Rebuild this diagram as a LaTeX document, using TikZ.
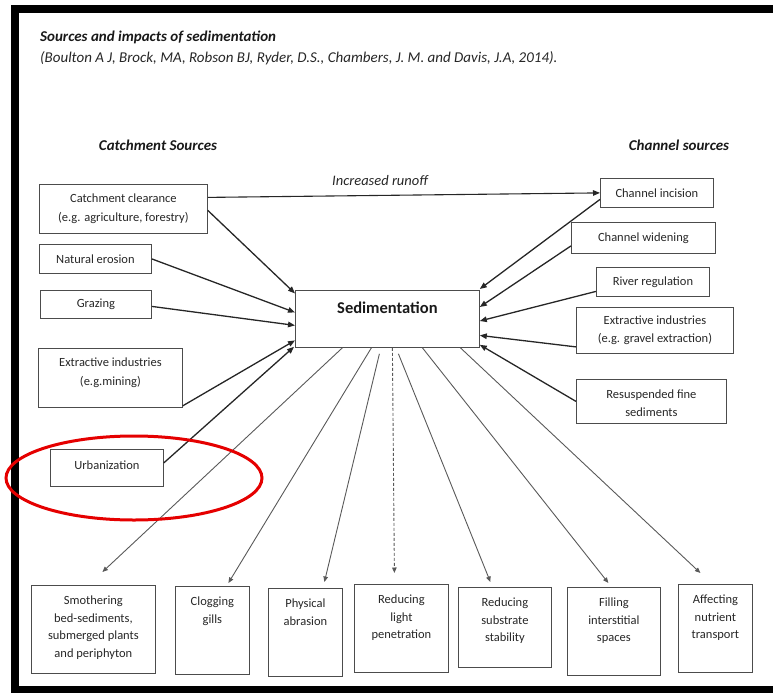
\documentclass[tikz,border=0pt]{standalone}
\usepackage{fontspec}
\setmainfont{Carlito}
\usetikzlibrary{arrows.meta,calc}
\begin{document}
\begin{tikzpicture}[x=1pt,y=-1pt,
  box/.style={draw=black!70, line width=0.8pt, inner sep=0pt, anchor=north west},
  btxt/.style={inner sep=0pt, align=center, text=black!85, font=\fontsize{12.5}{18.5}\selectfont},
  lowtxt/.style={inner sep=0pt, align=center, anchor=north, text=black!85, font=\fontsize{12.5}{17.5}\selectfont},
  head/.style={inner sep=0pt, text=black!90, font=\bfseries\itshape\fontsize{15}{18}\selectfont},
  inarr/.style={-{Triangle[length=7pt,width=5.5pt]}, line width=1.3pt, draw=black!85},
  outarr/.style={-{Triangle[length=5.5pt,width=4.5pt]}, line width=0.9pt, draw=black!65},
  frame/.style={fill=black, draw=none}
]
\useasboundingbox (0,0) rectangle (773,693);
% black frame (open at right)
\fill[frame] (11,5) rectangle (773,13);
\fill[frame] (11,5) rectangle (19,693);
\fill[frame] (11,686) rectangle (773,693);

% headings
\node[head, anchor=west] (title) at (40,37) {Sources and impacts of sedimentation};
\node[inner sep=0pt, anchor=west, text=black!85, font=\itshape\fontsize{15}{18}\selectfont] (cite) at (40,58)
  {(Boulton A J, Brock, MA, Robson BJ, Ryder, D.S., Chambers, J. M. and Davis, J.A, 2014).};
\node[head] (catch) at (158,145) {Catchment Sources};
\node[head] (chan) at (679,145) {Channel sources};

% left boxes
\node[box, minimum width=168, minimum height=49] (cc) at (39,184) {};
\node[btxt] (cct) at (cc.center) {Catchment clearance\\(e.g. agriculture, forestry)};
\node[box, minimum width=112, minimum height=29] (ne) at (39,244) {};
\node[btxt] (net) at (ne.center) {Natural erosion};
\node[box, minimum width=111, minimum height=28] (gr) at (40,290) {};
\node[btxt] (grt) at (gr.center) {Grazing};
\node[box, minimum width=144, minimum height=59] (em) at (38,348) {};
\node[btxt] (emt) at ([yshift=5pt]em.center) {Extractive industries\\(e.g.mining)};
\node[box, minimum width=113, minimum height=37] (ur) at (50,449) {};
\node[btxt] (urt) at ([yshift=3pt]ur.center) {Urbanization};

% central box
\node[box, minimum width=184, minimum height=57] (sed) at (295,290) {};
\node[inner sep=0pt, text=black!90, font=\bfseries\fontsize{16.5}{20}\selectfont] (sedt) at ([yshift=11pt]sed.center) {Sedimentation};

% right boxes
\node[box, minimum width=113, minimum height=29] (ci) at (600,178) {};
\node[btxt] (cit) at (ci.center) {Channel incision};
\node[box, minimum width=144, minimum height=31] (cw) at (571,222) {};
\node[btxt] (cwt) at (cw.center) {Channel widening};
\node[box, minimum width=113, minimum height=29] (rr) at (596,267) {};
\node[btxt] (rrt) at (rr.center) {River regulation};
\node[box, minimum width=157, minimum height=46] (eg) at (576,307) {};
\node[btxt] (egt) at (eg.center) {Extractive industries\\(e.g. gravel extraction)};
\node[box, minimum width=150, minimum height=44] (rs) at (576,379) {};
\node[btxt] (rst) at ([yshift=-2pt]rs.center) {Resuspended fine\\sediments};

% bottom boxes
\node[box, minimum width=124, minimum height=88] (smo) at (31,585) {};
\node[lowtxt] (smot) at ([yshift=-11pt]smo.north) {Smothering\\bed-sediments,\\submerged plants\\and periphyton};
\node[box, minimum width=74, minimum height=88] (clo) at (175,586) {};
\node[lowtxt] (clot) at ([yshift=-11pt]clo.north) {Clogging\\gills};
\node[box, minimum width=74, minimum height=88] (phy) at (268,588) {};
\node[lowtxt] (phyt) at ([yshift=-11pt]phy.north) {Physical\\abrasion};
\node[box, minimum width=94, minimum height=88] (rli) at (354,584) {};
\node[lowtxt] (rlit) at ([yshift=-11pt]rli.north) {Reducing\\light\\penetration};
\node[box, minimum width=93, minimum height=80] (rss) at (458,587) {};
\node[lowtxt] (rsst) at ([yshift=-11pt]rss.north) {Reducing\\substrate\\stability};
\node[box, minimum width=93, minimum height=88] (fil) at (567,587) {};
\node[lowtxt] (filt) at ([yshift=-11pt]fil.north) {Filling\\interstitial\\spaces};
\node[box, minimum width=74, minimum height=88] (aff) at (678,584) {};
\node[lowtxt] (afft) at ([yshift=-11pt]aff.north) {Affecting\\nutrient\\transport};

% increased runoff
\draw[inarr, line width=1.1pt] ([yshift=11.5pt]cc.east) -- (ci.west);
\node[inner sep=0pt, text=black!85, font=\itshape\fontsize{14.5}{17}\selectfont] (runoff) at (380,181) {Increased runoff};

% arrows into sedimentation (left)
\draw[inarr] ([yshift=-1.5pt]cc.east) -- ([yshift=25.5pt]sed.west);
\draw[inarr] (ne.east) -- ([yshift=6.5pt]sed.west);
\draw[inarr] ([yshift=-2pt]gr.east) -- ([yshift=-6.5pt]sed.west);
\draw[inarr] ([yshift=2pt]em.south east) -- ([yshift=-21.5pt]sed.west);
\draw[inarr] ([yshift=5pt]ur.east) -- ([xshift=-1pt,yshift=1pt]sed.south west);

% arrows into sedimentation (right)
\draw[inarr] ([yshift=-6.5pt]ci.west) -- ([yshift=1pt]sed.north east);
\draw[inarr] ([yshift=-8pt]cw.west) -- ([yshift=-17pt]sed.north east);
\draw[inarr] ([yshift=-9.5pt]rr.west) -- ([yshift=-31pt]sed.north east);
\draw[inarr] ([yshift=-16.5pt]eg.west) -- ([yshift=-16.5pt]sed.east);
\draw[inarr] (rs.west) -- ([yshift=3pt]sed.south east);

% arrows out of sedimentation
\coordinate (smoin) at ([xshift=9pt,yshift=13pt]smo.north);
\draw[outarr] ([xshift=-45pt]sed.south) -- (smoin);
\draw[outarr] ([xshift=-16pt]sed.south) -- ([xshift=16pt,yshift=3pt]clo.north);
\draw[outarr] ([xshift=-8pt,yshift=-6pt]sed.south) -- ([xshift=19pt,yshift=6pt]phy.north);
\draw[outarr, densely dashed] ([xshift=5pt]sed.south) -- ([xshift=-7pt,yshift=11pt]rli.north);
\draw[outarr] ([xshift=11pt,yshift=-6pt]sed.south) -- ([xshift=-14.5pt,yshift=5pt]rss.north);
\draw[outarr] ([xshift=35pt]sed.south) -- ([xshift=-5.5pt,yshift=4pt]fil.north);
\draw[outarr] ([xshift=73pt]sed.south) -- ([xshift=-15pt,yshift=11pt]aff.north);

% red highlight ellipse
\draw[red!90!black, line width=3pt] (134,478) ellipse [x radius=128, y radius=42];
\end{tikzpicture}
\end{document}
